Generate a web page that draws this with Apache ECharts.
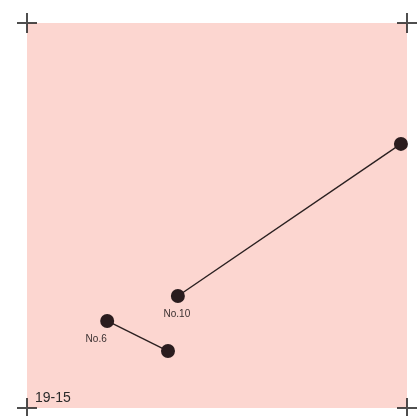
<!DOCTYPE html>
<html>
<head>
<meta charset="utf-8">
<script src="https://cdn.jsdelivr.net/npm/echarts@6/dist/echarts.min.js"></script>
<style>
html,body{margin:0;padding:0;background:#fff;}
#chart{width:417px;height:416px;}
</style>
</head>
<body>
<div id="chart"></div>
<script>
//点位数据 (0-100坐标)
var line_a = [[39.7, 29.1, 'No.10'], [98.4, 68.6, '']];
var line_b = [[21.1, 22.6, 'No.6'], [37.1, 14.8, '']];
//四角十字标记
var corner_marks = [[0, 100], [100, 100], [0, 0], [100, 0]];
var corner_text = '19-15';

var myChart = echarts.init(document.getElementById('chart'));
var dot_color = '#2a1c1e';
var plus_path = 'path://M0,9h20v2h-20z M9,0h2v20h-2z';

function line_series(data, label_dx)
{
	return {
		type: 'line',
		data: data,
		symbol: 'circle',
		symbolSize: 14,
		lineStyle: {color: '#2a2020', width: 1.4},
		itemStyle: {color: dot_color},
		label: {
			show: true,
			position: 'bottom',
			distance: 6,
			offset: [label_dx, 0],
			fontSize: 10,
			color: '#3a3030',
			fontFamily: 'Liberation Sans',
			formatter: function(p){ return p.data[2]; }
		},
		z: 3
	};
}

var option = {
	animation: false,
	grid: {
		left: 27, top: 23, width: 380, height: 385,
		show: true,
		backgroundColor: '#fcd6d0',
		borderWidth: 0
	},
	xAxis: {type: 'value', min: 0, max: 100, show: false},
	yAxis: {type: 'value', min: 0, max: 100, show: false},
	series: [
		line_series(line_a, -1),
		line_series(line_b, -11),
		{
			type: 'scatter',
			data: corner_marks,
			symbol: plus_path,
			symbolSize: 20,
			itemStyle: {color: '#222'},
			z: 4
		}
	],
	graphic: [{
		type: 'text',
		left: 35,
		top: 391,
		style: {
			text: corner_text,
			fontSize: 14,
			fill: '#2a2a2a',
			fontFamily: 'Liberation Sans'
		}
	}]
};
myChart.setOption(option);
</script>
</body>
</html>
